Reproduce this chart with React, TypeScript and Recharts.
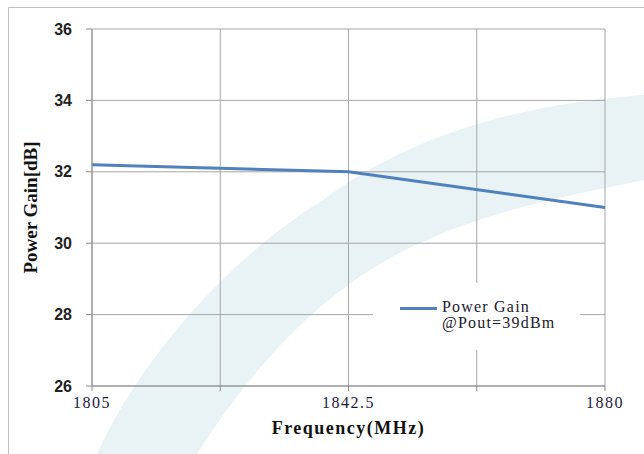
import { CartesianGrid, Line, LineChart, XAxis, YAxis } from "recharts";

const frequencies = [1805, 1842.5, 1880];
const powerGain = [32.2, 32.0, 31.0];
const xTicks = [1805, 1823.75, 1842.5, 1861.25, 1880];
const xLabelled = [1805, 1842.5, 1880];
const yTicks = [26, 28, 30, 32, 34, 36];

const data = frequencies.map((f, i) => ({ f, gain: powerGain[i] }));

const SERIF = "'Liberation Serif', 'Times New Roman', serif";
const SANS = "'Liberation Sans', Arial, sans-serif";
const LINE_COLOR = "#4f81bd";

// legend sits in a white box over the grid, like the original
const LegendBox = () => (
  <div
    style={{
      position: "absolute",
      left: 373,
      top: 283,
      background: "#fff",
      width: 207,
      height: 67,
      boxSizing: "border-box",
      padding: "16px 0 0 27px",
      display: "flex",
      alignItems: "flex-start",
      fontFamily: SERIF,
      fontSize: 16,
      letterSpacing: 1.2,
      color: "#1a1a2a",
      lineHeight: "16px",
    }}
  >
    <span style={{ width: 37, height: 3, background: LINE_COLOR, marginTop: 8, marginRight: 5, flex: "none" }} />
    <span>
      Power Gain
      <br />
      @Pout=39dBm
    </span>
  </div>
);

// decorative watermark band + frame behind the chart
const Backdrop = () => (
  <svg width={644} height={454} style={{ position: "absolute", left: 0, top: 0 }}>
    <path
      d="M 97 454 C 140 360, 227 259, 323 200 C 410 135, 520 104, 644 95 L 644 180 C 550 199, 452 218, 370 270 C 299 315, 242 383, 197 454 Z"
      fill="#e9f2f5"
    />
    <path d="M 8.5 454 L 8.5 7.5 L 644 7.5" fill="none" stroke="#bdbdbd" />
  </svg>
);

const App = () => (
  <div style={{ position: "absolute", left: 0, top: 0, width: 644, height: 454, background: "#fff" }}>
    <Backdrop />
    <div style={{ position: "absolute", left: 0, top: 0 }}>
      <LineChart width={644} height={454} data={data} margin={{ top: 29, right: 39, left: 0, bottom: 0 }}>
        <CartesianGrid stroke="#a6a6a6" />
        <XAxis
          dataKey="f"
          type="number"
          domain={[1805, 1880]}
          ticks={xTicks}
          interval={0}
          height={68}
          tickSize={5}
          tickMargin={6}
          stroke="#8c8c8c"
          tickFormatter={(v: number) => (xLabelled.includes(v) ? String(v) : "")}
          tick={{ fontFamily: SERIF, fontSize: 16, letterSpacing: 1.5, fill: "#1a1a3a" }}
          label={{
            value: "Frequency(MHz)",
            position: "center",
            dy: 8,
            style: { fontFamily: SERIF, fontSize: 18, letterSpacing: 1.5, fontWeight: "bold", fill: "#111" },
          }}
        />
        <YAxis
          type="number"
          domain={[26, 36]}
          ticks={yTicks}
          interval={0}
          width={92}
          tickSize={6}
          tickMargin={14}
          stroke="#8c8c8c"
          tick={{ fontFamily: SANS, fontSize: 16, fontWeight: "bold", fill: "#222" }}
          label={{
            value: "Power Gain[dB]",
            angle: -90,
            position: "center",
            dx: -16,
            style: { fontFamily: SERIF, fontSize: 19, fontWeight: "bold", fill: "#111" },
          }}
        />
        <Line
          type="linear"
          dataKey="gain"
          stroke={LINE_COLOR}
          strokeWidth={3}
          dot={false}
          isAnimationActive={false}
        />
      </LineChart>
    </div>
    <LegendBox />
  </div>
);

export default App;
